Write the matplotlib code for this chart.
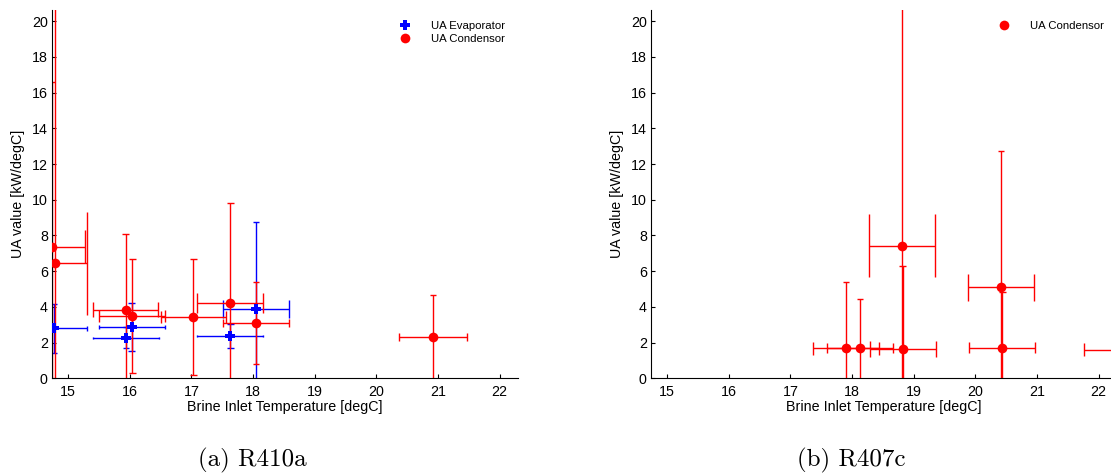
import numpy as np
import matplotlib
matplotlib.use("Agg")
import matplotlib.pyplot as plt

plt.rcParams['font.family'] = ['Liberation Sans', 'DejaVu Sans']

# (a) R410a - evaporator
evap_T = [14.77, 15.94, 16.03, 17.63, 18.05]
evap_UA = [2.80, 2.27, 2.87, 2.37, 3.88]
evap_T_err = [0.54, 0.535, 0.535, 0.535, 0.535]
evap_UA_err = [1.38, 0.60, 1.32, 0.68, 4.86]

# (a) R410a - condensor
cond_T = [14.74, 14.78, 15.93, 16.04, 17.03, 17.63, 18.05, 20.92]
cond_UA = [7.37, 6.44, 3.83, 3.49, 3.42, 4.20, 3.08, 2.31]
cond_T_err = [0.53, 0.52, 0.53, 0.535, 0.53, 0.535, 0.53, 0.545]
cond_UA_err = [9.2, 29.0, 4.24, 3.2, 3.25, 5.6, 2.3, 2.33]

# (b) R407c - condensor
cond2_T = [17.90, 18.13, 18.81, 18.82, 20.42, 20.44, 22.30]
cond2_UA = [1.68, 1.71, 7.43, 1.64, 5.11, 1.71, 1.60]
cond2_T_err = [0.53, 0.54, 0.535, 0.535, 0.54, 0.535, 0.535]
cond2_UA_err = [3.7, 2.71, 17.5, 4.67, 7.6, 3.1, 3.5]

captions = ["(a) R410a", "(b) R407c"]
xlabel = "Brine Inlet Temperature [degC]"
ylabel = "UA value [kW/degC]"


def draw_series(ax, T, UA, Terr, UAerr, color, marker, label):
    T, UA = np.array(T), np.array(UA)
    Terr, UAerr = np.array(Terr), np.array(UAerr)
    ax.errorbar(T, UA, xerr=Terr, yerr=UAerr, fmt='none', ecolor=color,
                elinewidth=1.0, capsize=0, zorder=2)
    # caps sized at 10% of the error along the other axis (errorbarxy style)
    ax.vlines(np.r_[T - Terr, T + Terr], np.r_[UA - 0.1 * UAerr, UA - 0.1 * UAerr],
              np.r_[UA + 0.1 * UAerr, UA + 0.1 * UAerr], colors=color, lw=1.0, zorder=2)
    ax.hlines(np.r_[UA - UAerr, UA + UAerr], np.r_[T - 0.1 * Terr, T - 0.1 * Terr],
              np.r_[T + 0.1 * Terr, T + 0.1 * Terr], colors=color, lw=1.0, zorder=2)
    ax.plot(T, UA, linestyle='none', marker=marker, ms=7, color=color,
            markeredgewidth=0, label=label, zorder=3)


def style_axes(ax):
    ax.set_xlim(14.737, 22.3)
    ax.set_ylim(0, 20.63)
    ax.set_xticks(range(15, 23))
    ax.set_yticks(range(0, 21, 2))
    ax.spines['top'].set_visible(False)
    ax.spines['right'].set_visible(False)
    ax.tick_params(direction='in', length=3, width=0.8, labelsize=10.3, pad=3)
    ax.tick_params(axis='x', pad=5)
    ax.set_xlabel(xlabel, fontsize=10.3)
    ax.set_ylabel(ylabel, fontsize=10.3)
    ax.xaxis.set_label_coords(0.5, -0.058)
    ax.yaxis.set_label_coords(-0.057, 0.5)
    ax.legend(loc='upper left', bbox_to_anchor=(0.745, 0.97), frameon=False,
              fontsize=8.2, handlelength=1.0, handletextpad=1.8, labelspacing=0.22,
              borderpad=0, borderaxespad=0)


fig = plt.figure(figsize=(11.11, 4.75), dpi=100)
bottom = (475 - 378.3) / 475
height = 368.3 / 475
ax1 = fig.add_axes([52 / 1111, bottom, 466 / 1111, height])
ax2 = fig.add_axes([651 / 1111, bottom, 466 / 1111, height])

draw_series(ax1, evap_T, evap_UA, evap_T_err, evap_UA_err, 'blue', 'P', 'UA Evaporator')
draw_series(ax1, cond_T, cond_UA, cond_T_err, cond_UA_err, 'red', 'o', 'UA Condensor')
draw_series(ax2, cond2_T, cond2_UA, cond2_T_err, cond2_UA_err, 'red', 'o', 'UA Condensor')

style_axes(ax1)
style_axes(ax2)

fig.text(252 / 1111, 1 - 460 / 475, captions[0], fontsize=18, family='cmr10',
         ha='center', va='center')
fig.text(851 / 1111, 1 - 460 / 475, captions[1], fontsize=18, family='cmr10',
         ha='center', va='center')

fig.savefig("out.png", dpi=100)
plt.close(fig)
